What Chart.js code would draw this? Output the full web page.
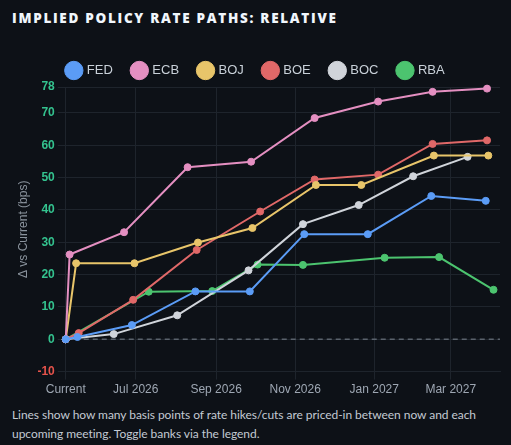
<!DOCTYPE html>
<html>
<head>
<meta charset="utf-8">
<script src="https://cdn.jsdelivr.net/npm/chart.js@4.4.1/dist/chart.umd.min.js"></script>
<style>
    html, body {
        margin: 0;
        padding: 0;
        background: #0d1117;
        width: 511px;
        height: 445px;
        overflow: hidden;
    }
    .panel-title {
        position: absolute;
        left: 12px;
        top: 9px;
        margin: 0;
        font-family: 'Open Sans', sans-serif;
        font-weight: 800;
        font-size: 13.5px;
        letter-spacing: 1.7px;
        color: #f0f6fc;
    }
    .chart-wrap {
        position: absolute;
        left: 12px;
        top: 44px;
        width: 493px;
        height: 356px;
    }
    .panel-note {
        position: absolute;
        left: 12px;
        top: 405px;
        width: 490px;
        margin: 0;
        font-family: 'Lato', sans-serif;
        font-size: 12px;
        letter-spacing: -0.05px;
        line-height: 19px;
        color: #c3cad3;
    }
</style>
</head>
<body>
<h2 class="panel-title">IMPLIED POLICY RATE PATHS: RELATIVE</h2>
<div class="chart-wrap"><canvas id="ratePaths"></canvas></div>
<p class="panel-note">Lines show how many basis points of rate hikes/cuts are priced-in between now and each upcoming meeting. Toggle banks via the legend.</p>

<script>
// Reference date for the "Current" point
const CURRENT_DATE = '2026-05-08';
const X_END_DATE = '2027-04-08';

// Axis ticks
const xTickDates = ['2026-05-08', '2026-07-01', '2026-09-01', '2026-11-01', '2027-01-01', '2027-03-01'];
const xTickLabels = ['Current', 'Jul 2026', 'Sep 2026', 'Nov 2026', 'Jan 2027', 'Mar 2027'];
const yTicks = [-10, 0, 10, 20, 30, 40, 50, 60, 70, 78];

// Meeting dates and priced-in change (bps) per bank
const fedDates = ['2026-05-08', '2026-05-17', '2026-06-28', '2026-08-16', '2026-09-27', '2026-11-08', '2026-12-27', '2027-02-14', '2027-03-28'];
const fedBps = [0, 0.7, 4.4, 14.8, 14.8, 32.5, 32.5, 44.3, 42.8];

const ecbDates = ['2026-05-08', '2026-05-11', '2026-06-22', '2026-08-10', '2026-09-28', '2026-11-16', '2027-01-04', '2027-02-15', '2027-03-29'];
const ecbBps = [0, 26.2, 33.1, 53.2, 54.9, 68.4, 73.5, 76.5, 77.5];

const bojDates = ['2026-05-08', '2026-05-16', '2026-06-30', '2026-08-18', '2026-09-29', '2026-11-17', '2026-12-22', '2027-02-16', '2027-03-30'];
const bojBps = [0, 23.5, 23.5, 29.9, 34.4, 47.7, 47.7, 56.8, 56.8];

const boeDates = ['2026-05-08', '2026-05-18', '2026-06-29', '2026-08-17', '2026-10-05', '2026-11-16', '2027-01-04', '2027-02-15', '2027-03-29'];
const boeBps = [0, 1.9, 12.2, 27.6, 39.5, 49.4, 50.9, 60.4, 61.5];

const bocDates = ['2026-05-08', '2026-06-14', '2026-08-02', '2026-09-26', '2026-11-07', '2026-12-20', '2027-01-31', '2027-03-14'];
const bocBps = [0, 1.6, 7.4, 21.3, 35.6, 41.5, 50.4, 56.4];

const rbaDates = ['2026-05-08', '2026-07-11', '2026-08-29', '2026-10-03', '2026-11-07', '2027-01-09', '2027-02-20', '2027-04-03'];
const rbaBps = [0, 14.7, 14.9, 23.1, 23.0, 25.2, 25.4, 15.3];

const banks = [
    { name: 'FED', color: '#5b9cf6', dates: fedDates, values: fedBps },
    { name: 'ECB', color: '#e48fc1', dates: ecbDates, values: ecbBps },
    { name: 'BOJ', color: '#e8c56a', dates: bojDates, values: bojBps },
    { name: 'BOE', color: '#e06868', dates: boeDates, values: boeBps },
    { name: 'BOC', color: '#d0d4da', dates: bocDates, values: bocBps },
    { name: 'RBA', color: '#4cc46f', dates: rbaDates, values: rbaBps }
];

// Days since the current date (no date adapter needed)
function dayOf(dateStr) {
    const [y, m, d] = dateStr.split('-').map(Number);
    const [y0, m0, d0] = CURRENT_DATE.split('-').map(Number);
    return Math.round((Date.UTC(y, m - 1, d) - Date.UTC(y0, m0 - 1, d0)) / 86400000);
}

// Dashed zero reference line
const zeroLine = {
    id: 'zeroLine',
    beforeDatasetsDraw(chart) {
        const { ctx, chartArea, scales } = chart;
        const y = scales.y.getPixelForValue(0);
        ctx.save();
        ctx.strokeStyle = '#5a626c';
        ctx.lineWidth = 1.5;
        ctx.setLineDash([5, 4]);
        ctx.beginPath();
        ctx.moveTo(chartArea.left, y);
        ctx.lineTo(chartArea.right, y);
        ctx.stroke();
        ctx.restore();
    }
};

const gridColor = '#1e242c';

new Chart(document.getElementById('ratePaths'), {
    type: 'line',
    data: {
        datasets: banks.map(bank => ({
            label: bank.name,
            data: bank.dates.map((d, i) => ({ x: dayOf(d), y: bank.values[i] })),
            borderColor: bank.color,
            backgroundColor: bank.color,
            borderWidth: 2,
            pointRadius: 3.5,
            pointBorderWidth: 1,
            tension: 0,
            clip: 6
        }))
    },
    options: {
        responsive: true,
        maintainAspectRatio: false,
        animation: false,
        layout: { padding: { right: 5 } },
        plugins: {
            legend: {
                position: 'top',
                labels: {
                    usePointStyle: true,
                    pointStyle: 'circle',
                    padding: 20,
                    color: '#c9d1d9',
                    font: { size: 13 }
                }
            },
            tooltip: { enabled: false }
        },
        scales: {
            x: {
                type: 'linear',
                min: 0,
                max: dayOf(X_END_DATE),
                afterBuildTicks: (axis) => {
                    axis.ticks = xTickDates.map(d => ({ value: dayOf(d) }));
                },
                ticks: {
                    color: '#9ea7b3',
                    font: { size: 12 },
                    maxRotation: 0,
                    callback: (value, index) => xTickLabels[index]
                },
                grid: { color: gridColor },
                border: { color: gridColor }
            },
            y: {
                min: -10,
                max: 78,
                afterBuildTicks: (axis) => {
                    axis.ticks = yTicks.map(v => ({ value: v }));
                },
                title: {
                    display: true,
                    text: 'Δ vs Current (bps)',
                    color: '#8b949e',
                    font: { size: 12 }
                },
                ticks: {
                    font: { size: 12, weight: 'bold' },
                    color: (ctx) => ctx.tick && ctx.tick.value < 0 ? '#e5534b' : '#34c38f'
                },
                grid: { color: gridColor },
                border: { color: gridColor }
            }
        }
    },
    plugins: [zeroLine]
});
</script>
</body>
</html>
